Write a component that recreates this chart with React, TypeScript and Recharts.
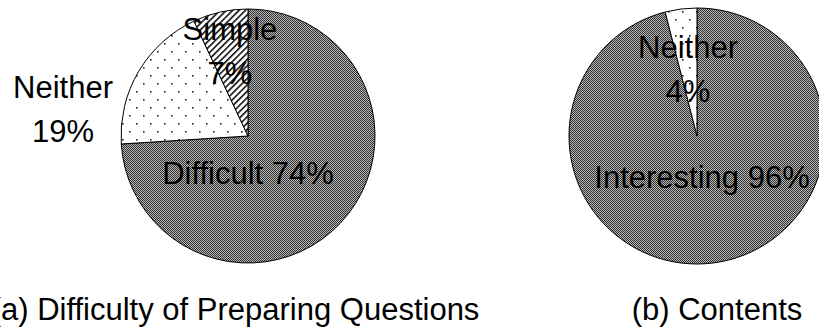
import React from 'react';
import { PieChart, Pie, Cell } from 'recharts';

// ---- data ----
const difficultyNames = ['Difficult', 'Neither', 'Simple'];
const difficultyValues = [74, 19, 7];
const contentNames = ['Interesting', 'Neither'];
const contentValues = [96, 4];
const captions = ['(a) Difficulty of Preparing Questions', '(b) Contents'];

// ---- layout / styles ----
const W = 819;
const H = 333;
const FONT = '"Liberation Sans", Arial, Helvetica, sans-serif';
const FS = 31;
const LINE_H = 44;

const difficultyFills = ['url(#grayDither)', 'url(#dots)', 'url(#stripes)'];
const contentFills = ['url(#grayDither)', 'url(#dots)'];

// label placement: offset of text centre / first baseline from pie centre, and whether split in 2 lines
const difficultyLabelPos = [
  { dx: 0, dy: 48, split: false },
  { dx: -185, dy: -38, split: true },
  { dx: -18, dy: -96, split: true },
];
const contentLabelPos = [
  { dx: 5, dy: 52, split: false },
  { dx: -9, dy: -78, split: true },
];

const difficultyData = difficultyNames.map((n, i) => ({ name: n, value: difficultyValues[i] }));
const contentData = contentNames.map((n, i) => ({ name: n, value: contentValues[i] }));

const makeLabel = (layout: { dx: number; dy: number; split: boolean }[]) => (props: any) => {
  const { cx, cy, index, name, value } = props;
  const p = layout[index];
  const x = Number(cx) + p.dx;
  const y = Number(cy) + p.dy;
  if (p.split) {
    return (
      <text x={x} y={y} textAnchor="middle" fontFamily={FONT} fontSize={FS} fill="#000">
        <tspan x={x} y={y}>{name}</tspan>
        <tspan x={x} y={y + LINE_H}>{`${value}%`}</tspan>
      </text>
    );
  }
  return (
    <text x={x} y={y} textAnchor="middle" fontFamily={FONT} fontSize={FS} fill="#000">
      {`${name} ${value}%`}
    </text>
  );
};

const Defs = () => (
  <svg width={0} height={0} style={{ position: 'absolute' }}>
    <defs>
      <pattern id="grayDither" patternUnits="userSpaceOnUse" width={2} height={2}>
        <rect x={0} y={0} width={2} height={2} fill="#b8b8b8" />
        <rect x={0} y={0} width={1} height={1} fill="#303030" />
        <rect x={1} y={1} width={1} height={1} fill="#303030" />
      </pattern>
      <pattern id="dots" patternUnits="userSpaceOnUse" width={14} height={16}>
        <rect x={0} y={0} width={14} height={16} fill="#fff" />
        <rect x={3} y={3} width={1.6} height={1.6} fill="#222" />
        <rect x={10} y={11} width={1.6} height={1.6} fill="#222" />
      </pattern>
      <pattern id="stripes" patternUnits="userSpaceOnUse" width={4.5} height={4.5} patternTransform="rotate(45)">
        <rect x={0} y={0} width={4.5} height={4.5} fill="#fff" />
        <rect x={0} y={0} width={1.6} height={4.5} fill="#111" />
      </pattern>
    </defs>
  </svg>
);

export default function App() {
  return (
    <div style={{ position: 'absolute', left: 0, top: 0, width: W, height: H, background: '#fff', overflow: 'hidden' }}>
      <Defs />
      <PieChart width={W} height={H} margin={{ top: 0, right: 0, bottom: 0, left: 0 }}>
        <Pie
          data={difficultyData}
          dataKey="value"
          nameKey="name"
          cx={248}
          cy={136}
          outerRadius={127}
          startAngle={90}
          endAngle={-270}
          isAnimationActive={false}
          labelLine={false}
          label={makeLabel(difficultyLabelPos)}
        >
          {difficultyData.map((d, i) => (
            <Cell key={d.name} fill={difficultyFills[i]} stroke="#000" strokeWidth={1} />
          ))}
        </Pie>
        <Pie
          data={contentData}
          dataKey="value"
          nameKey="name"
          cx={697}
          cy={136}
          outerRadius={128}
          startAngle={90}
          endAngle={-270}
          isAnimationActive={false}
          labelLine={false}
          label={makeLabel(contentLabelPos)}
        >
          {contentData.map((d, i) => (
            <Cell key={d.name} fill={contentFills[i]} stroke="#000" strokeWidth={1} />
          ))}
        </Pie>
      </PieChart>
      <svg width={W} height={H} style={{ position: 'absolute', left: 0, top: 0, pointerEvents: 'none' }}>
        <text x={235} y={320} textAnchor="middle" fontFamily={FONT} fontSize={FS} fill="#000">{captions[0]}</text>
        <text x={717} y={320} textAnchor="middle" fontFamily={FONT} fontSize={FS} fill="#000">{captions[1]}</text>
      </svg>
    </div>
  );
}
